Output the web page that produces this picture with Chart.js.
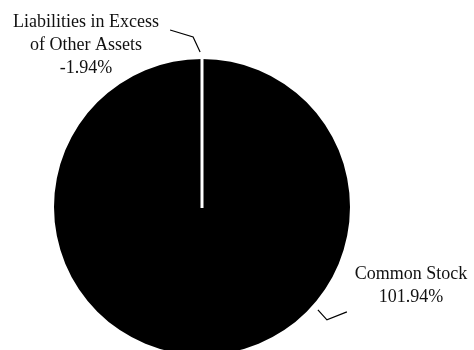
<!DOCTYPE html>
<html>
<head>
<meta charset="utf-8">
<script src="https://cdn.jsdelivr.net/npm/chart.js@4.4.1/dist/chart.umd.min.js"></script>
<style>
  html, body { margin: 0; padding: 0; background: #fff; overflow: hidden; }
  #wrap { width: 474px; height: 350px; overflow: hidden; }
</style>
</head>
<body>
<div id="wrap"><canvas id="grafico" width="474" height="362"></canvas></div>
<script>
// datos
const categorias = ['Common Stock', 'Liabilities in Excess of Other Assets'];
const porcentajes = [101.94, -1.94];
const lineasEtiqueta = [['Common Stock'], ['Liabilities in Excess', 'of Other Assets']];

// el valor negativo no ocupa superficie en la torta
const valoresTorta = porcentajes.map(v => Math.max(v, 0));

const pluginEtiquetas = {
  id: 'etiquetas',
  afterDatasetsDraw(chart) {
    const ctx = chart.ctx;
    const arcos = chart.getDatasetMeta(0).data;
    const a0 = arcos[0];
    const cx = a0.x, cy = a0.y, r = a0.outerRadius;

    // linea blanca en el borde del segmento
    ctx.save();
    ctx.strokeStyle = '#fff';
    ctx.lineWidth = 3;
    ctx.beginPath();
    ctx.moveTo(cx, cy + 1);
    ctx.lineTo(cx + Math.cos(a0.startAngle) * (r + 1), cy + Math.sin(a0.startAngle) * (r + 1));
    ctx.stroke();
    ctx.restore();

    // posiciones de leader lines y texto (relativas al centro)
    const conf = [
      { ang: 41.6 * Math.PI / 180, d1: [9, 10], d2: [20, -8], tx: 209, ty: 72 },
      { ang: -90.7 * Math.PI / 180, d1: [-7, -15], d2: [-23, -7], tx: -116, ty: -180 }
    ];

    ctx.save();
    ctx.strokeStyle = '#000';
    ctx.lineWidth = 1.2;
    ctx.fillStyle = '#111';
    ctx.font = '18px "Liberation Serif", "Times New Roman", serif';
    ctx.textAlign = 'center';
    ctx.textBaseline = 'alphabetic';

    conf.forEach((c, i) => {
      const p1x = cx + Math.cos(c.ang) * (r + 7);
      const p1y = cy + Math.sin(c.ang) * (r + 7);
      const p2x = p1x + c.d1[0], p2y = p1y + c.d1[1];
      const p3x = p2x + c.d2[0], p3y = p2y + c.d2[1];
      ctx.beginPath();
      ctx.moveTo(p1x, p1y);
      ctx.lineTo(p2x, p2y);
      ctx.lineTo(p3x, p3y);
      ctx.stroke();

      const lineas = lineasEtiqueta[i].concat([porcentajes[i].toFixed(2) + '%']);
      lineas.forEach((t, k) => {
        ctx.fillText(t, cx + c.tx, cy + c.ty + k * 23);
      });
    });
    ctx.restore();
  }
};

new Chart(document.getElementById('grafico'), {
  type: 'pie',
  data: {
    labels: categorias,
    datasets: [{
      data: valoresTorta,
      backgroundColor: ['#000000', '#000000'],
      borderWidth: 0
    }]
  },
  options: {
    responsive: false,
    animation: false,
    layout: { padding: { top: 59, left: 54, right: 124, bottom: 7 } },
    plugins: {
      legend: { display: false },
      tooltip: { enabled: false }
    }
  },
  plugins: [pluginEtiquetas]
});
</script>
</body>
</html>
